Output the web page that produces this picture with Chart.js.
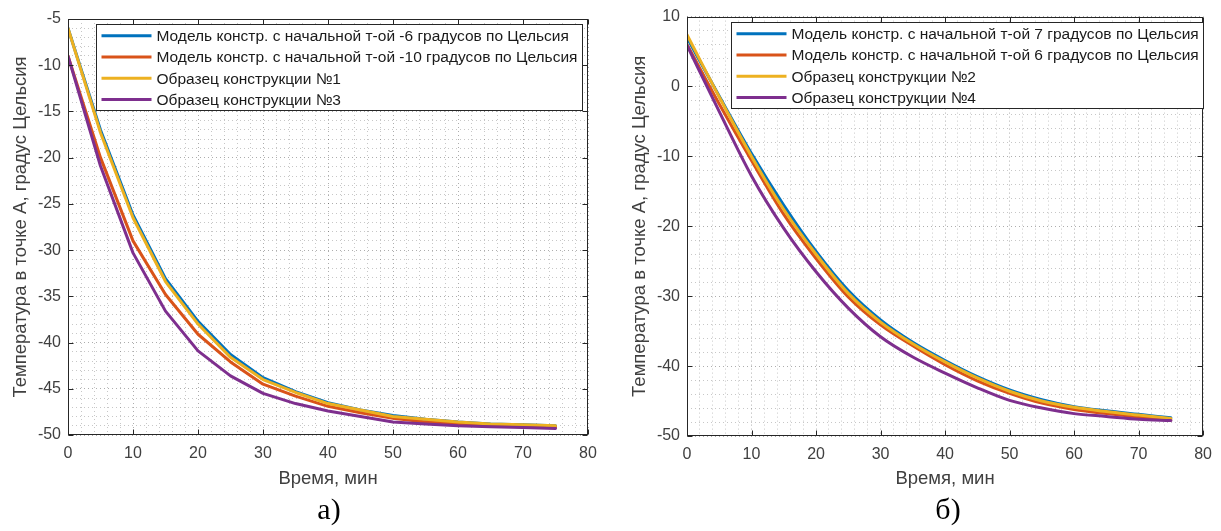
<!DOCTYPE html>
<html>
<head>
<meta charset="utf-8">
<script src="https://cdn.jsdelivr.net/npm/chart.js@4/dist/chart.umd.min.js"></script>
<style>
  html, body { margin: 0; padding: 0; background: #fff; }
  #wrap { position: relative; width: 1221px; height: 531px; overflow: hidden; }
  canvas { position: absolute; top: 0; }
  #ca { left: 0; }
  #cb { left: 610px; }
  .cap { position: absolute; top: 491px; font-family: "Liberation Serif", "Times New Roman", serif;
         font-size: 30px; line-height: 36px; color: #000; transform: translateX(-50%); }
</style>
</head>
<body>
<div id="wrap">
  <canvas id="ca" width="610" height="531"></canvas>
  <canvas id="cb" width="611" height="531"></canvas>
  <div class="cap" style="left:329px">а)</div>
  <div class="cap" style="left:948px">б)</div>
</div>
<script>
// Time points, minutes
const minutes = [0, 5, 10, 15, 20, 25, 30, 35, 40, 45, 50, 55, 60, 65, 70, 75];

// Panel а): temperature at point A, °C
const modelMinus6  = [-6.0, -17.0, -26.2, -33.1, -37.7, -41.3, -43.8, -45.3, -46.5, -47.3, -47.9, -48.3, -48.6, -48.8, -48.9, -49.0];
const modelMinus10 = [-9.0, -20.0, -29.0, -34.8, -39.1, -42.1, -44.5, -45.8, -46.9, -47.6, -48.2, -48.6, -48.8, -49.0, -49.1, -49.2];
const sample1      = [-6.0, -17.3, -26.5, -33.4, -38.0, -41.6, -44.0, -45.4, -46.6, -47.3, -48.0, -48.3, -48.6, -48.8, -48.9, -49.0];
const sample3      = [-9.0, -20.9, -30.3, -36.6, -40.9, -43.6, -45.5, -46.6, -47.4, -48.0, -48.6, -48.8, -49.0, -49.1, -49.2, -49.3];

// Panel б): temperature at point A, °C
const model7  = [7.0, -1.4, -9.6, -17.0, -23.6, -29.2, -33.4, -36.6, -39.2, -41.5, -43.4, -44.8, -45.8, -46.4, -46.9, -47.4];
const model6  = [6.0, -2.5, -10.6, -18.3, -24.6, -30.1, -34.1, -37.1, -39.8, -42.1, -43.9, -45.3, -46.2, -46.8, -47.3, -47.7];
const sample2 = [7.4, -1.5, -10.0, -17.6, -24.0, -29.6, -33.7, -36.8, -39.4, -41.7, -43.6, -45.0, -45.9, -46.5, -47.0, -47.5];
const sample4 = [5.9, -3.6, -12.8, -20.3, -26.5, -31.7, -35.8, -38.7, -41.0, -43.1, -44.9, -46.0, -46.8, -47.2, -47.6, -47.8];

// Legend labels
const labelsA = [
  'Модель констр. с начальной т-ой -6 градусов по Цельсия',
  'Модель констр. с начальной т-ой -10 градусов по Цельсия',
  'Образец конструкции №1',
  'Образец конструкции №3'
];
const labelsB = [
  'Модель констр. с начальной т-ой 7 градусов по Цельсия',
  'Модель констр. с начальной т-ой 6 градусов по Цельсия',
  'Образец конструкции №2',
  'Образец конструкции №4'
];

// Axis ticks: major (labelled) and minor (grid only) steps
const xRange = [0, 80], xMajor = 10, xMinor = 2;
const yRangeA = [-50, -5], yMajorA = 5, yMinorA = 1;
const yRangeB = [-50, 10], yMajorB = 10, yMinorB = 2;

const xTitle = 'Время, мин';
const yTitle = 'Температура в точке А, градус Цельсия';

const colors = ['#0072BD', '#D95319', '#EDB120', '#7E2F8E'];
const AXIS = '#262626';
const FONT = '"Liberation Sans", Arial, sans-serif';

const toXY = ys => ys.map((y, i) => ({ x: minutes[i], y }));

// Frame with inward ticks on all four sides, plus a boxed legend inside the plot
const framePlugin = {
  id: 'frameLegend',
  afterDatasetsDraw(chart, args, o) {
    const { ctx, chartArea: a, scales } = chart;
    const L = Math.round(a.left) + 0.5, R = Math.round(a.right) - 0.5;
    const T = Math.round(a.top) + 0.5, B = Math.round(a.bottom) - 0.5;
    ctx.save();
    ctx.strokeStyle = AXIS;
    ctx.lineWidth = 1;
    ctx.beginPath();
    const tl = 5;
    scales.x.ticks.forEach(t => {
      if (t.value % o.xMajor !== 0) return;
      const p = Math.round(scales.x.getPixelForValue(t.value)) + 0.5;
      ctx.moveTo(p, B); ctx.lineTo(p, B - tl);
      ctx.moveTo(p, T); ctx.lineTo(p, T + tl);
    });
    scales.y.ticks.forEach(t => {
      if (t.value % o.yMajor !== 0) return;
      const p = Math.round(scales.y.getPixelForValue(t.value)) + 0.5;
      ctx.moveTo(L, p); ctx.lineTo(L + tl, p);
      ctx.moveTo(R, p); ctx.lineTo(R - tl, p);
    });
    ctx.stroke();
    ctx.strokeRect(L, T, R - L, B - T);

    // legend
    const ds = chart.data.datasets;
    ctx.font = o.legendFont;
    let tw = 0;
    ds.forEach(d => { tw = Math.max(tw, ctx.measureText(d.label).width); });
    const bx = Math.round(a.left + o.legendDx) + 0.5;
    const by = Math.round(a.top + o.legendDy) + 0.5;
    const rowH = o.rowH;
    const bw = Math.round(o.textX + tw + o.padR);
    const bh = Math.round(rowH * ds.length + o.padV * 2);
    ctx.fillStyle = '#fff';
    ctx.fillRect(bx, by, bw, bh);
    ctx.strokeStyle = AXIS;
    ctx.strokeRect(bx, by, bw, bh);
    ds.forEach((d, i) => {
      const cy = by + o.padV + rowH * (i + 0.5);
      ctx.strokeStyle = d.borderColor;
      ctx.lineWidth = 3;
      ctx.beginPath();
      ctx.moveTo(bx + o.lineX0, cy);
      ctx.lineTo(bx + o.lineX1, cy);
      ctx.stroke();
      ctx.fillStyle = '#1a1a1a';
      ctx.textBaseline = 'middle';
      ctx.textAlign = 'left';
      ctx.fillText(d.label, bx + o.textX, cy + 1);
    });
    ctx.restore();
  }
};

function makeChart(id, series, labels, yRange, yMajor, yMinor, geo, smooth) {
  // draw order: blue first, purple last (on top); legend keeps dataset order
  const datasets = series.map((s, i) => ({
    label: labels[i],
    data: toXY(s),
    borderColor: colors[i],
    backgroundColor: colors[i],
    borderWidth: 3,
    pointRadius: 0,
    tension: 0,
    cubicInterpolationMode: smooth ? 'monotone' : 'default',
    borderJoinStyle: 'round',
    borderCapStyle: 'round',
    order: series.length - i
  }));
  const gridColor = major => ctx => (ctx.tick && ctx.tick.value % major === 0) ? 'rgba(0,0,0,0.32)' : 'rgba(0,0,0,0.22)';
  return new Chart(document.getElementById(id), {
    type: 'line',
    data: { datasets },
    options: {
      responsive: false,
      animation: false,
      devicePixelRatio: 1,
      layout: { padding: { left: 0, right: geo.padR, top: geo.padT, bottom: 40 } },
      plugins: {
        legend: { display: false },
        tooltip: { enabled: false },
        frameLegend: {
          xMajor, yMajor,
          legendFont: '15.5px ' + FONT,
          legendDx: geo.legDx, legendDy: 5,
          rowH: 21.3, padV: 0.5,
          lineX0: 5, lineX1: 55, textX: 60, padR: 5
        }
      },
      scales: {
        x: {
          type: 'linear',
          min: xRange[0], max: xRange[1],
          afterFit: s => { s.height = geo.xH; },
          ticks: {
            stepSize: xMinor, autoSkip: false, maxRotation: 0, padding: 9,
            color: '#404040', font: { family: FONT, size: 16 },
            callback: v => (v % xMajor === 0 ? String(v) : '')
          },
          grid: { drawTicks: false, color: gridColor(xMajor), lineWidth: 1 },
          border: { display: false, dash: [1, 3] },
          title: { display: true, text: xTitle, color: '#404040',
                   font: { family: FONT, size: 18.5 }, padding: { top: 0, bottom: 1 } }
        },
        y: {
          type: 'linear',
          min: yRange[0], max: yRange[1],
          afterFit: s => { s.width = geo.yW; },
          ticks: {
            stepSize: yMinor, autoSkip: false, padding: 7,
            color: '#404040', font: { family: FONT, size: 16 },
            callback: v => (v % yMajor === 0 ? String(v) : '')
          },
          grid: { drawTicks: false, color: gridColor(yMajor), lineWidth: 1 },
          border: { display: false, dash: [1, 3] },
          title: { display: true, text: yTitle, color: '#404040',
                   font: { family: FONT, size: 18.5 }, padding: { top: geo.yTitlePad, bottom: 0 } }
        }
      }
    },
    plugins: [framePlugin]
  });
}

makeChart('ca', [modelMinus6, modelMinus10, sample1, sample3], labelsA, yRangeA, yMajorA, yMinorA,
  { padR: 22, padT: 19, xH: 56, yW: 68, yTitlePad: 10, legDx: 28 }, false);
makeChart('cb', [model7, model6, sample2, sample4], labelsB, yRangeB, yMajorB, yMinorB,
  { padR: 12, padT: 16, xH: 55, yW: 77, yTitlePad: 19, legDx: 44 }, true);
</script>
</body>
</html>
